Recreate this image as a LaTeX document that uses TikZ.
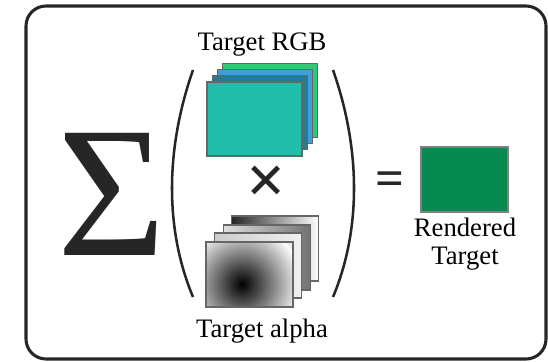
\documentclass[tikz,border=0pt]{standalone}
\usepackage{fontspec}
\setmainfont{Liberation Serif}
\usepackage{tikz}

\definecolor{rgbA}{RGB}{33,190,172}
\definecolor{rgbB}{RGB}{40,122,140}
\definecolor{rgbC}{RGB}{62,160,218}
\definecolor{rgbD}{RGB}{46,200,118}
\definecolor{rendercol}{RGB}{6,138,80}

\tikzset{
  layer/.style={draw=black!60, line width=0.8pt},
  label/.style={font=\fontsize{20}{20.5}\selectfont, inner sep=0pt},
}

\begin{document}
\begin{tikzpicture}[x=0.75pt, y=-0.75pt]
  \useasboundingbox (0,0) rectangle (548,361);
  \draw[line width=2.3pt, black!85, rounded corners=15pt] (26,6) rectangle (546,359);

  % big sum sign and the brackets
  \node (sigma) [inner sep=0pt, anchor=base, font=\fontsize{140}{140}\selectfont, black!85] at (111.5,255) {Σ};
  \draw[line width=1.9pt, black!85] (193,70) .. controls (165,150) and (165,230) .. (193,297);
  \draw[line width=1.9pt, black!85] (333,70) .. controls (361,150) and (361,230) .. (333,297);

  % colour layers
  \node (rgblabel) [label, anchor=base] at (262,50) {Target RGB};
  \foreach \i/\col in {3/rgbD,2/rgbC,1/rgbB,0/rgbA}
    \draw[layer, fill=\col] ({207+\i*5.3},{156-\i*6.1}) rectangle +(95,-74);

  \node (times) [inner sep=0pt, font=\fontsize{52}{52}\selectfont\bfseries, black!85] at (266,185) {×};

  % alpha layers
  \draw[layer, left color=black!85, right color=white] (231.8,281) rectangle +(87,-65);
  \draw[layer, left color=gray!25, right color=black!55] (223.2,290) rectangle +(87,-65);
  \draw[layer, left color=gray!40, right color=gray!12] (214.6,298) rectangle +(87,-65);
  \begin{scope}
    \clip (206,307) rectangle +(87,-65);
    \shade[inner color=black, outer color=white] (242,284) circle (60);
  \end{scope}
  \draw[layer] (206,307) rectangle +(87,-65);
  \node (alphalabel) [label, anchor=base] at (262,337) {Target alpha};

  % result
  \node (equals) [inner sep=0pt, font=\fontsize{38}{38}\selectfont\bfseries, black!85] at (390,184) {=};
  \node (rendered) [draw=black!50, line width=0.8pt, fill=rendercol, minimum width=65.25pt,
    minimum height=48.75pt, inner sep=0pt] at (464.5,179.5) {};
  \node (renderedlabel) [label, align=center] at (465,244) {Rendered\\Target};
\end{tikzpicture}
\end{document}
